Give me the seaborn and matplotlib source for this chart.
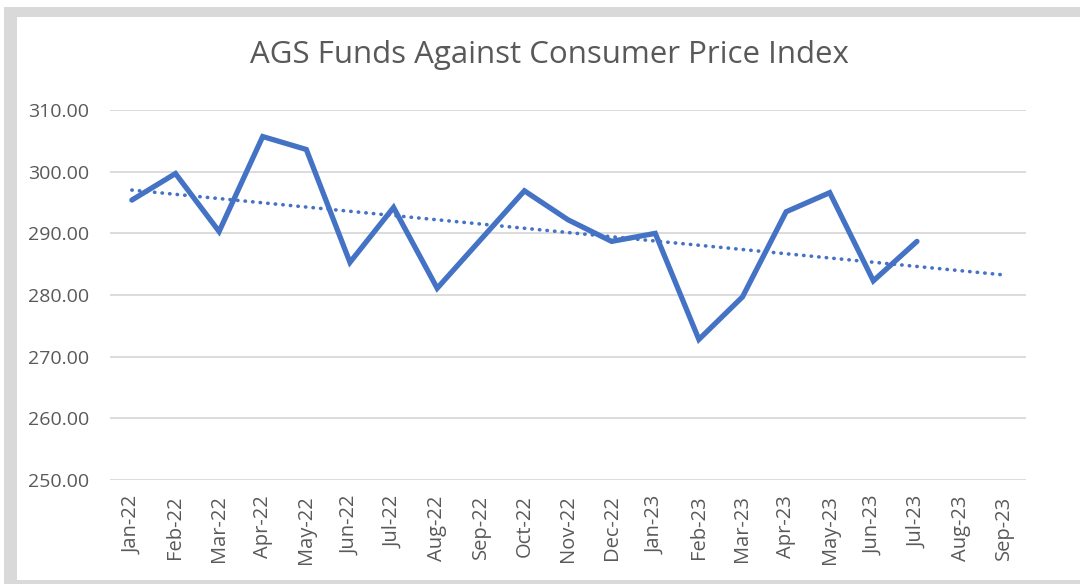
import numpy as np
import pandas as pd
import matplotlib
matplotlib.use("Agg")
import matplotlib.pyplot as plt
import seaborn as sns
from matplotlib.patches import Rectangle

# month labels on the category axis (data stops at Jul-23, trend runs to Sep-23)
months = ['Jan-22', 'Feb-22', 'Mar-22', 'Apr-22', 'May-22', 'Jun-22', 'Jul-22',
          'Aug-22', 'Sep-22', 'Oct-22', 'Nov-22', 'Dec-22', 'Jan-23', 'Feb-23',
          'Mar-23', 'Apr-23', 'May-23', 'Jun-23', 'Jul-23', 'Aug-23', 'Sep-23']
ags_values = [295.4, 299.7, 290.3, 305.7, 303.6, 285.3, 294.2, 281.1, 289.0, 296.9,
              292.2, 288.7, 290.0, 272.8, 279.7, 293.5, 296.6, 282.3, 288.7]
y_ticks = [250, 260, 270, 280, 290, 300, 310]

df = pd.DataFrame({'idx': range(len(ags_values)), 'value': ags_values})

# linear trendline, extended forward over all months
slope, intercept = np.polyfit(df['idx'], df['value'], 1)
trend_x = np.arange(len(months))
trend_df = pd.DataFrame({'idx': trend_x, 'value': intercept + slope * trend_x})

sns.set_style("white")
plt.rcParams['font.family'] = ['Open Sans', 'DejaVu Sans']

blue = '#4472C4'
text_grey = '#595959'
frame_grey = '#d9d9d9'

fig = plt.figure(figsize=(10.8, 5.84), dpi=100)
ax = fig.add_axes([0.1019, 0.178, 0.8481, 0.6336])

sns.lineplot(data=df, x='idx', y='value', ax=ax, color=blue, linewidth=3.8,
             solid_joinstyle='miter', solid_capstyle='round')
sns.lineplot(data=trend_df, x='idx', y='value', ax=ax, color=blue, linewidth=2.6,
             linestyle=(0, (0.1, 2.0)), dash_capstyle='round')

ax.set_xlim(-0.5, len(months) - 0.5)
ax.set_ylim(250, 310)
ax.set_yticks(y_ticks)
ax.set_yticklabels([f'{v:.2f}' for v in y_ticks], fontsize=14, color=text_grey)
ax.tick_params(axis='y', length=0, pad=15)
ax.set_xticks(range(len(months)))
ax.set_xticklabels(months, rotation=90, fontsize=14.5, color=text_grey)
ax.tick_params(axis='x', length=0, pad=11)
ax.set_xlabel('')
ax.set_ylabel('')
ax.grid(axis='y', color=frame_grey, linewidth=1.3)
ax.set_axisbelow(True)
for s in ax.spines.values():
    s.set_visible(False)

fig.text(0.509, 0.906, 'AGS Funds Against Consumer Price Index', ha='center',
         va='center', fontsize=22.5, color=text_grey)

# grey frame strips (left, top, bottom) as in the cropped screenshot
W, H = 1080, 584
for (x0, y0, w, h) in [(4, 0, 13, 577), (4, 567, 1076, 10), (4, 0, 1076, 4)]:
    fig.patches.append(Rectangle((x0 / W, y0 / H), w / W, h / H,
                                 transform=fig.transFigure, facecolor=frame_grey,
                                 edgecolor='none'))

fig.savefig('out.png', dpi=100)
